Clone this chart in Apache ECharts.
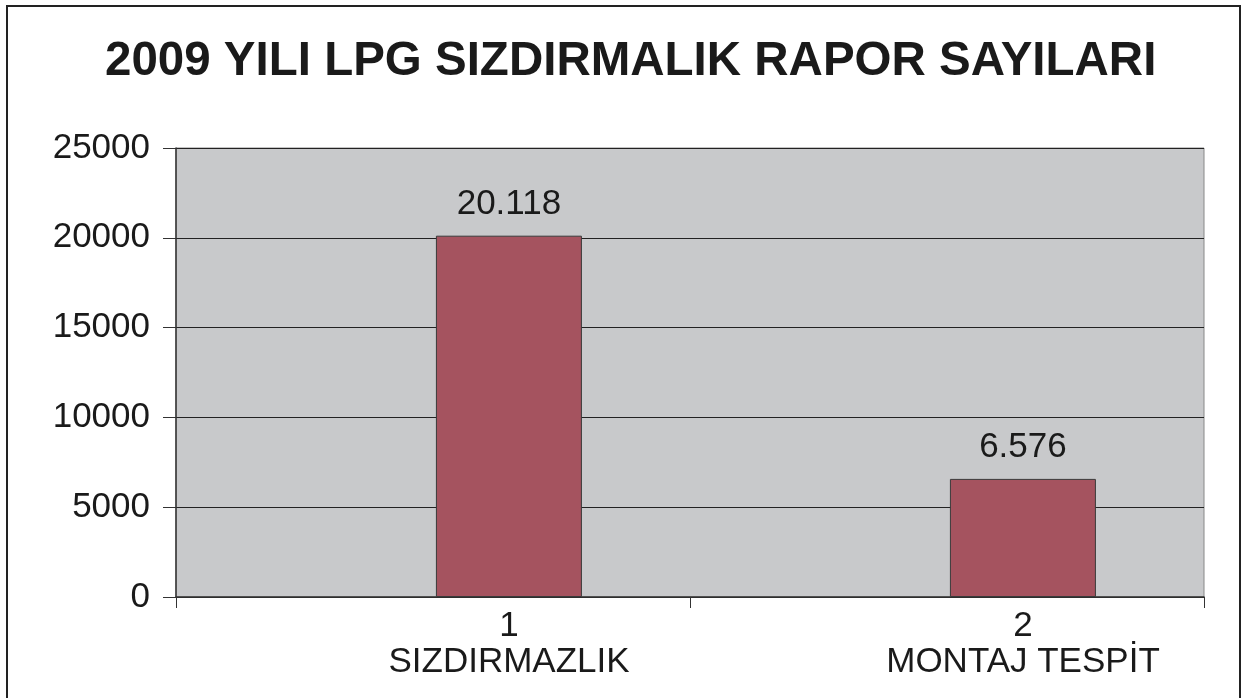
<!DOCTYPE html>
<html>
<head>
<meta charset="utf-8">
<script src="https://cdn.jsdelivr.net/npm/echarts@6/dist/echarts.min.js"></script>
<style>
  html, body { margin: 0; padding: 0; background: #fff; }
  #container { width: 1242px; height: 698px; }
</style>
</head>
<body>
<div id="container"></div>
<script>
var myChart = echarts.init(document.getElementById('container'));

var categories = ['SIZDIRMAZLIK', 'MONTAJ TESPİT'];
var categoryNumbers = ['1', '2'];
var reportCounts = [20118, 6576];
var emptySeries = ['-', '-'];
var yTicks = { min: 0, max: 25000, interval: 5000 };

// Turkish style thousands separator: 20118 -> 20.118
function trNumber(v) {
  return String(v).replace(/\B(?=(\d{3})+(?!\d))/g, '.');
}

var font = '"Liberation Sans", Arial, Helvetica, sans-serif';

var option = {
  backgroundColor: '#fff',
  animation: false,
  title: {
    text: '2009 YILI LPG SIZDIRMALIK RAPOR SAYILARI',
    left: 100,
    top: 33,
    textStyle: {
      color: '#1a1a1a',
      fontFamily: font,
      fontWeight: 'bold',
      fontSize: 47.5
    }
  },
  graphic: [{
    type: 'polyline',
    shape: { points: [[7, 698], [7, 6], [1240, 6], [1240, 698]] },
    style: { stroke: '#222', lineWidth: 2, fill: null }
  }],
  grid: {
    left: 176,
    top: 148,
    right: 38,
    bottom: 101,
    show: true,
    backgroundColor: '#c8c9cb',
    borderColor: '#888',
    borderWidth: 1
  },
  xAxis: {
    type: 'category',
    data: categories,
    axisLine: { lineStyle: { color: '#333', width: 1.5 } },
    axisTick: { show: true, length: 11, lineStyle: { color: '#333' } },
    axisLabel: {
      color: '#1a1a1a',
      fontFamily: font,
      fontSize: 35,
      lineHeight: 36,
      margin: 11,
      padding: [0, 0, 0, 152],
      formatter: function (v, i) { return categoryNumbers[i] + '\n' + v; }
    }
  },
  yAxis: {
    type: 'value',
    min: yTicks.min,
    max: yTicks.max,
    interval: yTicks.interval,
    axisLine: { show: true, lineStyle: { color: '#333', width: 1.5 } },
    axisTick: { show: true, length: 13, lineStyle: { color: '#333' } },
    axisLabel: {
      color: '#1a1a1a',
      fontFamily: font,
      fontSize: 35,
      margin: 26,
      formatter: function (v) { return String(v); }
    },
    splitLine: { lineStyle: { color: '#222', width: 1 } }
  },
  series: [
    {
      name: 'empty',
      type: 'bar',
      data: emptySeries,
      barWidth: 146,
      barGap: '4%'
    },
    {
      name: 'rapor',
      type: 'bar',
      data: reportCounts,
      barWidth: 146,
      barGap: '4%',
      itemStyle: { color: '#a5535f', borderColor: '#3a3a3a', borderWidth: 1 },
      label: {
        show: true,
        position: 'top',
        distance: 14,
        color: '#1a1a1a',
        fontFamily: font,
        fontSize: 35,
        formatter: function (p) { return trNumber(p.value); }
      }
    }
  ]
};

myChart.setOption(option);
</script>
</body>
</html>
